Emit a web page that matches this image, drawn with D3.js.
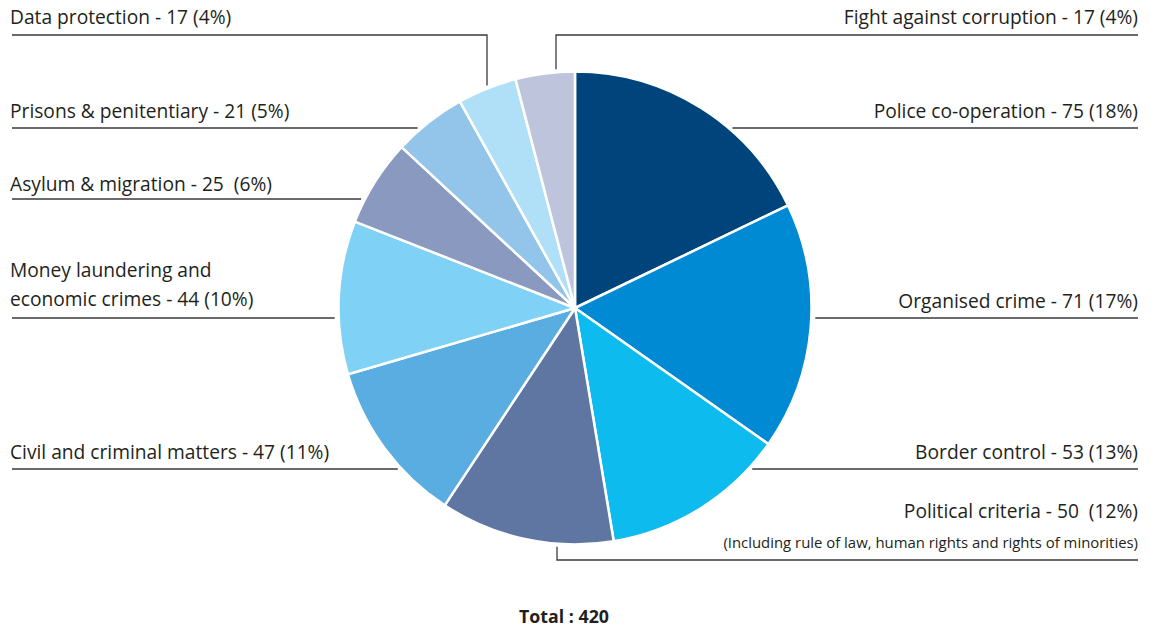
<!DOCTYPE html>
<html><head><meta charset="utf-8">
<script src="https://cdn.jsdelivr.net/npm/d3@7/dist/d3.min.js"></script>
<style>body{margin:0;background:#fff}svg{display:block}text{font-family:"Open Sans",sans-serif;fill:#231f20;white-space:pre}</style>
</head><body><svg id="c" width="1151" height="630"></svg>
<script>
const categories = ["Police co-operation","Organised crime","Border control","Political criteria","Civil and criminal matters","Money laundering and economic crimes","Asylum & migration","Prisons & penitentiary","Data protection","Fight against corruption"];
const values = [75,71,53,50,47,44,25,21,17,17];
const percents = [18,17,13,12,11,10,6,5,4,4];
const colors = ["#00447c","#008ad3","#0dbbee","#5f76a3","#5aade1","#80d1f6","#8a99bf","#93c5ea","#b0e0f8","#bec4dc"];
const labelLines = [
  ["Police co-operation - 75 (18%)"],
  ["Organised crime - 71 (17%)"],
  ["Border control - 53 (13%)"],
  ["Political criteria - 50  (12%)"],
  ["Civil and criminal matters - 47 (11%)"],
  ["Money laundering and","economic crimes - 44 (10%)"],
  ["Asylum & migration - 25  (6%)"],
  ["Prisons & penitentiary - 21 (5%)"],
  ["Data protection - 17 (4%)"],
  ["Fight against corruption - 17 (4%)"]
];
const subNote = "(Including rule of law, human rights and rights of minorities)";
const totalLabel = "Total : 420";

// layout
const cx = 575, cy = 308, R = 236.5;
const layout = [
  {side:"r", lineY:128, textY:118},
  {side:"r", lineY:318, textY:308},
  {side:"r", lineY:469, textY:459},
  {side:"r", lineY:560, textY:518, elbowX:557},
  {side:"l", lineY:469, textY:459},
  {side:"l", lineY:318, textY:306},
  {side:"l", lineY:199, textY:191},
  {side:"l", lineY:128, textY:118},
  {side:"l", lineY:35, textY:24, elbowX:487},
  {side:"r", lineY:35, textY:24, elbowX:556}
];
const svg = d3.select("#c");
const pie = d3.pie().sort(null).value(d=>d)(values);
const arc = d3.arc().innerRadius(0).outerRadius(R);
const g = svg.append("g").attr("transform",`translate(${cx},${cy})`);
g.selectAll("path").data(pie).join("path")
  .attr("d",arc).attr("fill",(d,i)=>colors[i])
  .attr("stroke","#fff").attr("stroke-width",2.5).attr("stroke-linejoin","round");

const leftX = 12, rightX = 1138, gap = 4;
layout.forEach((L,i)=>{
  let path;
  if (L.elbowX !== undefined) {
    const dx = L.elbowX - cx;
    const edge = Math.sqrt(R*R - dx*dx);
    const yEnd = L.lineY < cy ? cy - edge - gap + 1 : cy + edge + gap - 1;
    const xFar = L.side === "l" ? leftX : rightX;
    path = `M${xFar},${L.lineY}H${L.elbowX}V${yEnd}`;
  } else {
    const dy = L.lineY - cy;
    const half = Math.sqrt(Math.max(0,R*R - dy*dy));
    if (L.side === "l") path = `M${leftX},${L.lineY}H${cx - half - gap}`;
    else path = `M${rightX},${L.lineY}H${cx + half + gap}`;
  }
  svg.append("path").attr("d",path).attr("fill","none").attr("stroke","#3a3a3a").attr("stroke-width",1.3);
  const lines = labelLines[i];
  lines.forEach((t,j)=>{
    svg.append("text")
      .attr("x", L.side==="l" ? 10 : 1138)
      .attr("y", L.textY - (lines.length-1-j)*29)
      .attr("text-anchor", L.side==="l" ? "start" : "end")
      .attr("xml:space","preserve")
      .attr("font-size",19.2).text(t);
  });
});
svg.append("text").attr("x",1138).attr("y",548).attr("text-anchor","end").attr("font-size",14.9).text(subNote);
svg.append("text").attr("x",564).attr("y",623).attr("text-anchor","middle").attr("font-size",17.8).attr("font-weight","bold").text(totalLabel);
</script></body></html>
